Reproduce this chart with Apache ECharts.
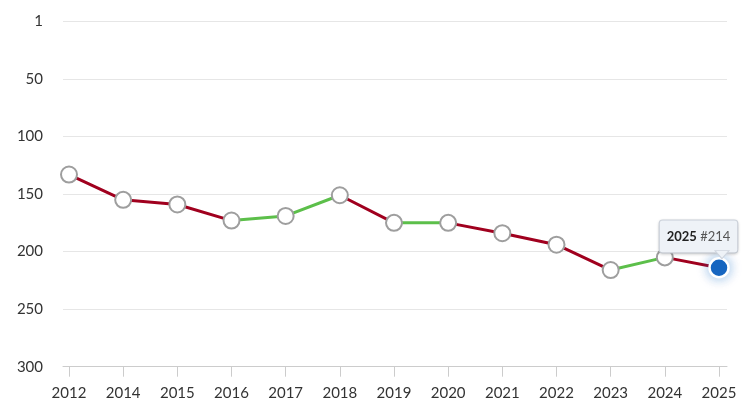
<!DOCTYPE html>
<html><head><meta charset="utf-8">
<script src="https://cdn.jsdelivr.net/npm/echarts@6/dist/echarts.min.js"></script>
<style>html,body{margin:0;padding:0;background:#fff}#c{width:750px;height:417px}</style>
</head><body><div id="c"></div>
<script>
var years = ['2012','2014','2015','2016','2017','2018','2019','2020','2021','2022','2023','2024','2025'];
var ranks = [133,155,159,173,169,151,175,175,184,194,216,205,214];
var yTicks = [1,50,100,150,200,250,300];
var worseColor = '#a0001e';
var betterColor = '#5cbf4a';

var pieces = [];
for (var i = 0; i < ranks.length - 1; i++) {
  pieces.push({gt: i, lte: i + 1, color: ranks[i + 1] > ranks[i] ? worseColor : betterColor});
}
var last = ranks.length - 1;
var font = 'Lato, "Open Sans", sans-serif';
var markers = ranks.map(function (v, i) {
  if (i === last) {
    return {
      value: v, symbolSize: 19,
      itemStyle: {color: '#1565c0', borderColor: '#ffffff', borderWidth: 2.5, shadowBlur: 12, shadowColor: 'rgba(30,110,200,0.45)'},
      label: {
        show: true, position: 'top', distance: 4.5, offset: [-20.5, 0],
        backgroundColor: '#eef2f7', borderColor: '#cfd5de', borderWidth: 1, borderRadius: 3,
        padding: [7, 7, 7, 7],
        shadowBlur: 3, shadowColor: 'rgba(0,0,0,0.15)', shadowOffsetY: 1,
        formatter: '{y|' + years[i] + '} {n|#' + v + '}',
        rich: {
          y: {fontFamily: font, fontSize: 13, fontWeight: 'bold', color: '#222222', lineHeight: 18},
          n: {fontFamily: font, fontSize: 13, color: '#555555', lineHeight: 18}
        }
      }
    };
  }
  return v;
});
var chart = echarts.init(document.getElementById('c'));
chart.setOption({
  animation: false,
  grid: [
    {left: 63, right: 23, top: 21.5, bottom: 50.3},
    {left: 69, right: 31, top: 21.5, bottom: 50.3}
  ],
  xAxis: [
    {gridIndex: 0, type: 'category', data: years, boundaryGap: false, position: 'bottom',
     axisLine: {show: true, onZero: false, lineStyle: {color: '#cccccc', width: 1}},
     axisTick: {show: false}, axisLabel: {show: false}, splitLine: {show: false}},
    {gridIndex: 1, type: 'category', data: years, boundaryGap: false, position: 'bottom',
     axisLine: {show: false, onZero: false},
     axisTick: {show: true, length: 10, alignWithLabel: true, lineStyle: {color: '#cccccc'}},
     axisLabel: {color: '#333333', fontFamily: font, fontSize: 15, margin: 19, interval: 0},
     splitLine: {show: false}}
  ],
  yAxis: [
    {gridIndex: 0, type: 'value', inverse: true, min: 0, max: 300, interval: 50,
     axisLine: {show: false}, axisTick: {show: false},
     axisLabel: {color: '#333333', fontFamily: font, fontSize: 15, margin: 20,
       formatter: function (v) { var idx = Math.round(v / 50); return String(yTicks[idx]); }},
     splitLine: {show: true, lineStyle: {color: '#e6e6e6', width: 1}}},
    {gridIndex: 1, type: 'value', inverse: true, min: 0, max: 300, interval: 50, show: false,
     splitLine: {show: false}}
  ],
  visualMap: {show: false, type: 'piecewise', dimension: 0, seriesIndex: 0, pieces: pieces},
  series: [
    {type: 'line', xAxisIndex: 1, yAxisIndex: 1, data: ranks, symbol: 'none',
     lineStyle: {width: 3}, silent: true, z: 2},
    {type: 'scatter', xAxisIndex: 1, yAxisIndex: 1, data: markers, symbol: 'circle', symbolSize: 16,
     itemStyle: {color: '#ffffff', borderColor: '#9e9e9e', borderWidth: 2, opacity: 1}, z: 3,
     markPoint: {
       silent: true, symbol: 'triangle', symbolRotate: 180, symbolSize: [14, 8], symbolOffset: [3, -13],
       itemStyle: {color: '#eef2f7', borderColor: '#cfd5de', borderWidth: 1},
       label: {show: false},
       data: [{coord: [years[last], ranks[last]]}]
     }}
  ]
});
</script>
</body></html>
